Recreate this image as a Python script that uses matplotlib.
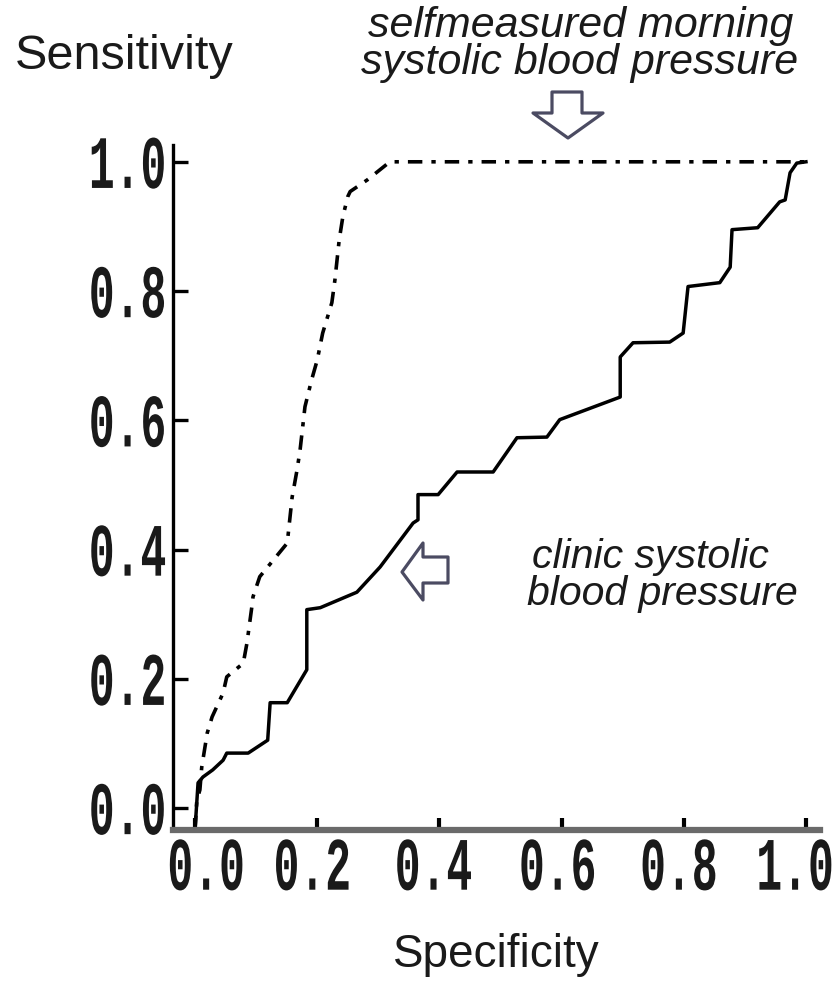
import matplotlib
matplotlib.use('Agg')
import matplotlib.pyplot as plt
from matplotlib.patches import Polygon
from matplotlib.patheffects import AbstractPathEffect
from matplotlib.transforms import Affine2D, ScaledTranslation

# ROC curves: specificity (x) vs sensitivity (y)
spec_clinic = [0.0, 0.005, 0.013, 0.029, 0.046, 0.052, 0.087, 0.119, 0.123, 0.151,
               0.183, 0.183, 0.205, 0.265, 0.303, 0.357, 0.365, 0.365, 0.398, 0.429,
               0.488, 0.527, 0.576, 0.597, 0.696, 0.696, 0.717, 0.777, 0.799, 0.807,
               0.859, 0.876, 0.879, 0.921, 0.957, 0.966, 0.974, 0.985, 1.0]
sens_clinic = [-0.034, 0.039, 0.048, 0.059, 0.074, 0.085, 0.085, 0.105, 0.163, 0.163,
               0.214, 0.307, 0.310, 0.334, 0.373, 0.441, 0.446, 0.485, 0.485, 0.520,
               0.520, 0.573, 0.574, 0.601, 0.636, 0.698, 0.720, 0.721, 0.735, 0.807,
               0.813, 0.837, 0.895, 0.898, 0.938, 0.941, 0.983, 0.998, 1.0]

spec_self = [0.0, 0.003, 0.008, 0.011, 0.020, 0.028, 0.046, 0.052, 0.079, 0.085,
             0.093, 0.095, 0.106, 0.151, 0.159, 0.167, 0.172, 0.180, 0.191, 0.200,
             0.209, 0.224, 0.229, 0.236, 0.242, 0.250, 0.254, 0.282, 0.319, 1.0]
sens_self = [-0.034, 0.012, 0.028, 0.063, 0.116, 0.141, 0.178, 0.203, 0.224, 0.255,
             0.311, 0.327, 0.358, 0.410, 0.481, 0.523, 0.554, 0.621, 0.663, 0.693,
             0.735, 0.782, 0.817, 0.879, 0.915, 0.946, 0.954, 0.972, 1.0, 1.0]

ticks = [0.0, 0.2, 0.4, 0.6, 0.8, 1.0]
tick_labels = ['0.0', '0.2', '0.4', '0.6', '0.8', '1.0']

W, H = 838, 982
ARROW = '#4b4b62'


class Stretch(AbstractPathEffect):
    """Scale glyphs about their own centre (tall, narrow typewriter digits)."""

    def __init__(self, sx=1.0, sy=1.0):
        super().__init__()
        self.sx, self.sy = sx, sy

    def draw_path(self, renderer, gc, tpath, affine, rgbFace=None):
        ext = tpath.get_extents()
        cx, cy = (ext.x0 + ext.x1) / 2, (ext.y0 + ext.y1) / 2
        t = Affine2D().translate(-cx, -cy).scale(self.sx, self.sy).translate(cx, cy)
        renderer.draw_path(gc, tpath, t + affine, rgbFace)


def px(x, y):
    # pixel position (from top-left) -> figure fraction
    return x / W, 1 - y / H


fig = plt.figure(figsize=(W / 100, H / 100), dpi=100)
ax = fig.add_axes([173 / W, 1 - 830 / H, (820 - 173) / W, (830 - 145) / H])

ax.plot(spec_clinic, sens_clinic, color='black', lw=2.5,
        solid_joinstyle='round', clip_on=False)
ax.plot(spec_self, sens_self, color='black', lw=2.6,
        linestyle=(0, (4, 2.5, 1.2, 2.5)), clip_on=False)

ax.set_xlim(-0.036, 1.023)
ax.set_ylim(-0.034, 1.026)
ax.set_xticks(ticks, tick_labels)
ax.set_yticks(ticks, tick_labels)

for s in ['top', 'right']:
    ax.spines[s].set_visible(False)
ax.spines['left'].set_linewidth(2.4)
ax.spines['bottom'].set_linewidth(4.5)
ax.spines['bottom'].set_color('#6a6a6a')

ax.tick_params(axis='y', direction='in', length=11, width=2.4, pad=5)
ax.tick_params(axis='x', direction='in', length=9, width=3, pad=13)

for lab in ax.get_xticklabels() + ax.get_yticklabels():
    lab.set_fontfamily('Liberation Mono')
    lab.set_fontweight('bold')
    lab.set_fontsize(31)
    lab.set_color('#1a1a1a')
    lab.set_path_effects([Stretch(1.0, 1.75)])

# x labels sit a little left of their ticks, the first one pushed clear of the y axis
x_shift = [11, -5, -6, -4, -5, -11]
for lab, dx in zip(ax.get_xticklabels(), x_shift):
    lab.set_transform(lab.get_transform()
                      + ScaledTranslation(dx / 100, 0, fig.dpi_scale_trans))

# axis titles
fig.text(*px(15, 69), 'Sensitivity', family='Liberation Sans', fontsize=35,
         ha='left', va='baseline', color='#1a1a1a')
fig.text(*px(496, 967), 'Specificity', family='Liberation Sans', fontsize=33,
         ha='center', va='baseline', color='#1a1a1a')

# curve annotations
for txt, x, y in [('selfmeasured morning', 581, 37),
                  ('systolic blood pressure', 580, 74)]:
    fig.text(*px(x, y), txt, family='Liberation Sans', style='italic',
             fontsize=31, ha='center', va='baseline', color='#1a1a1a')
for txt, x, y in [('clinic systolic', 650, 568),
                  ('blood pressure', 662, 605)]:
    fig.text(*px(x, y), txt, family='Liberation Sans', style='italic',
             fontsize=29.5, ha='center', va='baseline', color='#1a1a1a')

# hollow block arrows
down = [(552, 92), (582, 92), (582, 113), (603, 113), (568, 138), (533, 113), (552, 113)]
left = [(402, 572), (423, 543), (423, 557), (448, 557), (448, 583), (423, 583), (423, 600)]
for pts in [down, left]:
    fig.add_artist(Polygon([px(x, y) for x, y in pts], closed=True,
                           transform=fig.transFigure, facecolor='white',
                           edgecolor=ARROW, lw=2.3, joinstyle='round'))

fig.savefig('out.png', dpi=100, facecolor='white')
